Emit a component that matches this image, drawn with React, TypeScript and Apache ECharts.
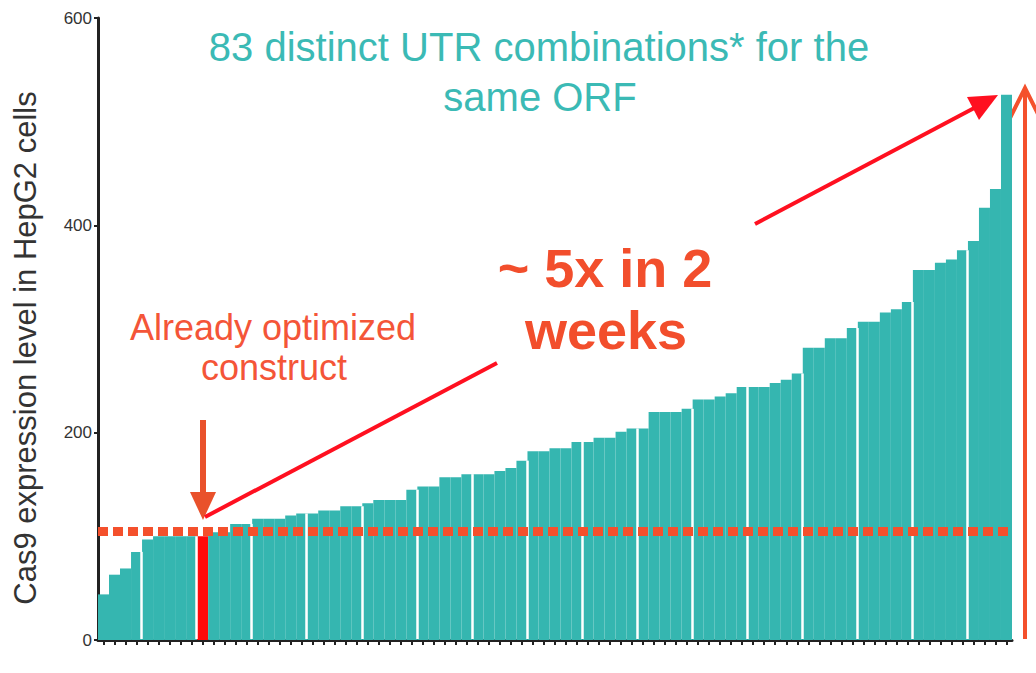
import React, { useEffect, useRef } from "react";
import * as echarts from "echarts";

// Cas9 expression level in HepG2 cells for 83 UTR combinations (sorted)
const values: number[] = [
  44, 63, 69, 85, 97, 100, 100, 100, 100, 100,
  104, 104, 112, 112, 117, 117, 117, 120, 122, 122,
  125, 125, 129, 129, 132, 135, 135, 135, 145, 148,
  148, 157, 157, 160, 160, 160, 163, 166, 173, 182,
  182, 185, 185, 191, 191, 195, 195, 201, 204, 204,
  220, 220, 220, 223, 232, 232, 235, 238, 244, 244,
  244, 248, 251, 257, 282, 282, 291, 291, 301, 307,
  307, 316, 319, 326, 357, 357, 364, 367, 376, 385,
  417, 435, 526,
];
const categories: string[] = values.map((_, i) => `UTR-${i + 1}`);
const optimizedIndex = 9; // "Already optimized construct"
const referenceLevel = 105; // dashed line
const yTicks = { min: 0, max: 600, interval: 200 };
const groupSize = 5; // the plot shows a thin white separator every 5 bars

const titleLines = ["83 distinct UTR combinations* for the", "same ORF"];
const yName = "Cas9 expression level in HepG2 cells";
const noteLines = ["Already optimized", "construct"];
const gainLines = ["~ 5x in 2", "weeks"];

const TEAL = "#35b6b0";
const ORANGE = "#f4502c";
const RED = "#ff1020";
const FONT = "Liberation Sans, Arial, sans-serif";

export default function App() {
  const ref = useRef<HTMLDivElement>(null);
  useEffect(() => {
    if (!ref.current) return;
    const chart = echarts.init(ref.current, undefined, { renderer: "svg" });
    const data = values.map((v, i) =>
      i === optimizedIndex ? { value: v, itemStyle: { color: "#ff0a0a" } } : v
    );
    const dashed = { yAxis: referenceLevel, lineStyle: { color: ORANGE, width: 9, type: [10, 5] } };
    chart.setOption({
      animation: false,
      backgroundColor: "#ffffff",
      grid: { left: 98, right: 24, top: 18, bottom: 33, containLabel: false },
      xAxis: {
        type: "category",
        data: categories,
        axisLine: { show: true, lineStyle: { color: "#222", width: 3 } },
        axisTick: { show: true, alignWithLabel: true, interval: 0, length: 5, lineStyle: { color: "#222", width: 2 } },
        axisLabel: { show: false },
        splitLine: { show: false },
      },
      yAxis: {
        type: "value",
        min: yTicks.min,
        max: yTicks.max,
        interval: yTicks.interval,
        axisLine: { show: true, lineStyle: { color: "#222", width: 3 } },
        axisTick: { show: true, length: 4, lineStyle: { color: "#222", width: 2 } },
        axisLabel: { fontSize: 17, color: "#333", margin: 6, fontFamily: FONT },
        splitLine: { show: false },
      },
      series: [
        {
          type: "bar",
          data,
          barCategoryGap: 0,
          itemStyle: { color: TEAL },
          silent: true,
          markLine: {
            silent: true,
            symbol: "none",
            label: { show: false },
            lineStyle: { color: ORANGE, width: 9, type: [10, 5] },
            data: [dashed],
          },
        },
      ],
      graphic: [
        { type: "text", x: 539, y: 47, style: { text: titleLines[0], fill: "#3bbab5", fontSize: 40, fontFamily: FONT, textAlign: "center", textVerticalAlign: "middle" } },
        { type: "text", x: 540, y: 97, style: { text: titleLines[1], fill: "#3bbab5", fontSize: 40, fontFamily: FONT, textAlign: "center", textVerticalAlign: "middle" } },
        { type: "text", x: 25, y: 348, rotation: Math.PI / 2, style: { text: yName, fill: "#333", fontSize: 31, fontFamily: FONT, textAlign: "center", textVerticalAlign: "middle" } },
        { type: "text", x: 273, y: 327, style: { text: noteLines[0], fill: "#f45538", fontSize: 36, fontFamily: FONT, textAlign: "center", textVerticalAlign: "middle" } },
        { type: "text", x: 274, y: 367, style: { text: noteLines[1], fill: "#f45538", fontSize: 36, fontFamily: FONT, textAlign: "center", textVerticalAlign: "middle" } },
        { type: "text", x: 605, y: 268, style: { text: gainLines[0], fill: "#f24e2c", fontSize: 54, fontWeight: "bold", fontFamily: FONT, textAlign: "center", textVerticalAlign: "middle" } },
        { type: "text", x: 606, y: 330, style: { text: gainLines[1], fill: "#f24e2c", fontSize: 54, fontWeight: "bold", fontFamily: FONT, textAlign: "center", textVerticalAlign: "middle" } },
        // down arrow to the optimized construct
        { type: "line", shape: { x1: 203, y1: 420, x2: 203, y2: 496 }, style: { stroke: "#e9512b", lineWidth: 6 } },
        { type: "polygon", shape: { points: [[190, 492], [216, 492], [203, 520]] }, style: { fill: "#e9512b" } },
        // diagonal red arrow
        { type: "line", shape: { x1: 205, y1: 517, x2: 497, y2: 363 }, style: { stroke: RED, lineWidth: 4 } },
        { type: "line", shape: { x1: 755, y1: 224, x2: 978, y2: 106 }, style: { stroke: RED, lineWidth: 4 } },
        { type: "polygon", shape: { points: [[998, 95], [967, 97], [979, 120]] }, style: { fill: RED } },
        // right vertical arrow
        { type: "line", shape: { x1: 1025, y1: 639, x2: 1025, y2: 89 }, style: { stroke: ORANGE, lineWidth: 4 } },
        { type: "polyline", shape: { points: [[1010, 118], [1025, 88], [1040, 118]] }, style: { stroke: ORANGE, lineWidth: 4, fill: "none" } },
      ],
    });

    // thin white separators at every 5th bar boundary, positioned through the axes
    const separators: any[] = [];
    values.forEach((v, i) => {
      if (i % groupSize === groupSize - 2 && i < values.length - 1) {
        const a = chart.convertToPixel({ seriesIndex: 0 }, [i, 0]) as number[];
        const b = chart.convertToPixel({ seriesIndex: 0 }, [i + 1, 0]) as number[];
        const top = chart.convertToPixel({ seriesIndex: 0 }, [i, v]) as number[];
        const x = (a[0] + b[0]) / 2 - 0.5;
        separators.push([
          { x, y: a[1] - 1, lineStyle: { color: "#ffffff", width: 2.5, type: "solid" } },
          { x, y: top[1] },
        ]);
      }
    });
    chart.setOption({ series: [{ markLine: { data: [...separators, dashed] } }] });

    return () => chart.dispose();
  }, []);
  return (
    <div
      ref={ref}
      style={{ position: "absolute", left: 0, top: 0, width: 1036, height: 673, background: "#fff" }}
    />
  );
}
